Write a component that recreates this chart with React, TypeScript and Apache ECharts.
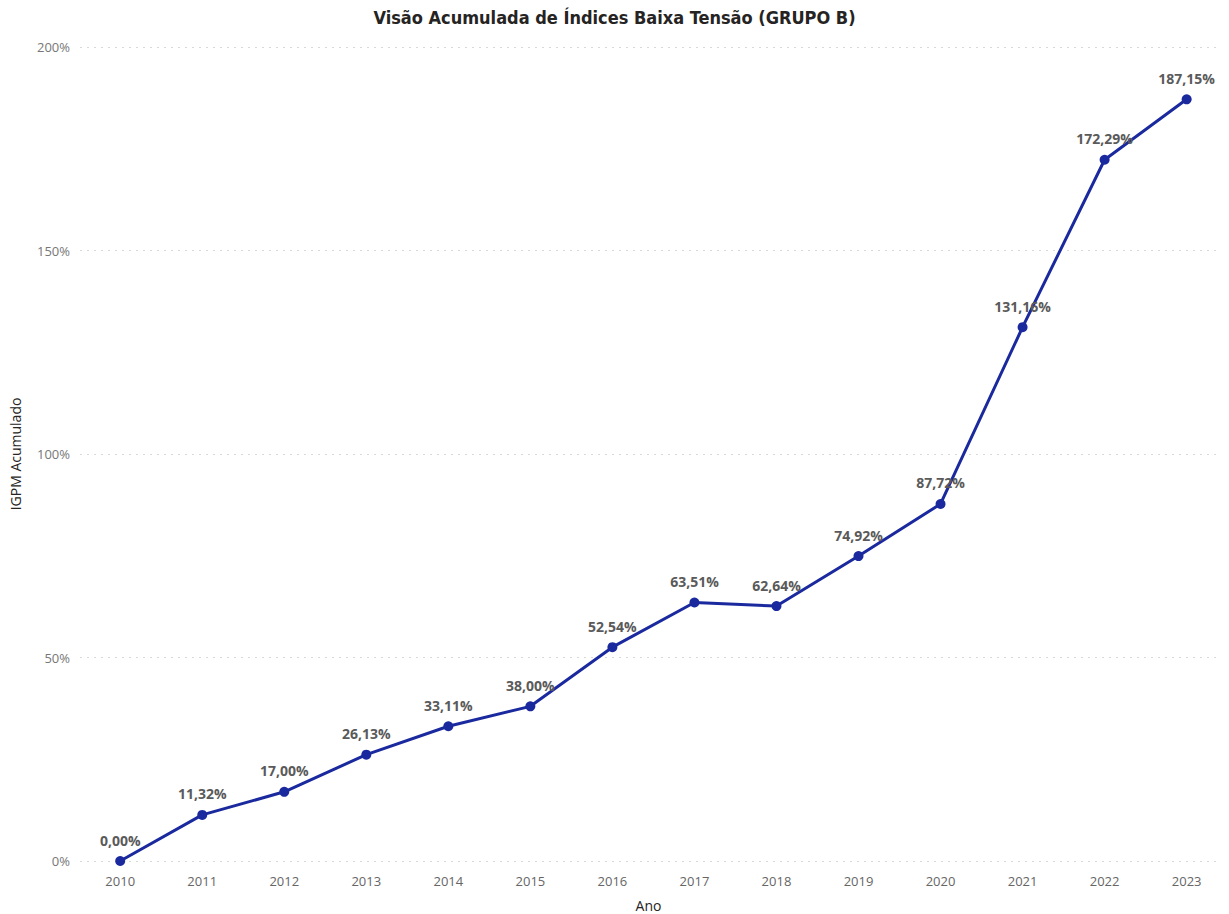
import React, { useEffect, useRef } from "react";
import * as echarts from "echarts";

const years = [2010, 2011, 2012, 2013, 2014, 2015, 2016, 2017, 2018, 2019, 2020, 2021, 2022, 2023];
const accumulated = [0.0, 11.32, 17.0, 26.13, 33.11, 38.0, 52.54, 63.51, 62.64, 74.92, 87.72, 131.16, 172.29, 187.15];
const yTicks = [0, 50, 100, 150, 200];

const fmtBR = (v: number) => v.toFixed(2).replace(".", ",") + "%";

export default function App() {
  const ref = useRef<HTMLDivElement>(null);
  useEffect(() => {
    if (!ref.current) return;
    const chart = echarts.init(ref.current, undefined, { renderer: "svg" });
    const data = years.map((y, i) => [y, accumulated[i]]);
    chart.setOption({
      animation: false,
      backgroundColor: "#ffffff",
      title: {
        text: "Visão Acumulada de Índices Baixa Tensão (GRUPO B)",
        left: "center",
        top: 3,
        textStyle: { fontFamily: "DejaVu Sans Condensed, Roboto", fontWeight: "bold", fontSize: 18, color: "#252423" },
      },
      grid: { left: 80, right: 12, top: 47, bottom: 53, containLabel: false, outerBoundsMode: "none" },
      xAxis: {
        type: "value",
        min: 2009.51,
        max: 2023.37,
        name: "Ano",
        nameLocation: "middle",
        nameGap: 37,
        nameTextStyle: { fontFamily: "Open Sans", fontSize: 14, color: "#252423" },
        axisLine: { show: false },
        axisTick: { show: false },
        splitLine: { show: false },
        axisLabel: {
          show: true,
          customValues: years,
          margin: 13,
          fontFamily: "Open Sans",
          fontSize: 13,
          color: "#666666",
          formatter: (v: any) => String(Math.round(Number(v))),
        },
      },
      yAxis: {
        type: "value",
        min: yTicks[0],
        max: yTicks[yTicks.length - 1],
        interval: 50,
        name: "IGPM Acumulado",
        nameLocation: "middle",
        nameGap: 58,
        nameTextStyle: { fontFamily: "Open Sans", fontSize: 14, color: "#252423" },
        axisLine: { show: false },
        axisTick: { show: false },
        axisLabel: {
          margin: 10,
          fontFamily: "Open Sans",
          fontSize: 13,
          color: "#777777",
          formatter: (v: number) => v + "%",
        },
        splitLine: { show: true, lineStyle: { type: [2, 5], color: "#d8d8d8", width: 1 } },
      },
      series: [
        {
          type: "line",
          data,
          symbol: "circle",
          symbolSize: 10,
          lineStyle: { color: "#1A2A9E", width: 3 },
          itemStyle: { color: "#1A2A9E" },
          label: {
            show: true,
            position: "top",
            distance: 9,
            fontFamily: "Open Sans",
            fontWeight: "bold",
            fontSize: 14,
            color: "#5a5a5a",
            formatter: (p: any) => fmtBR(p.value[1]),
          },
        },
      ],
    });
    return () => chart.dispose();
  }, []);
  return <div ref={ref} style={{ width: 1229, height: 914, position: "absolute", left: 0, top: 0 }} />;
}
